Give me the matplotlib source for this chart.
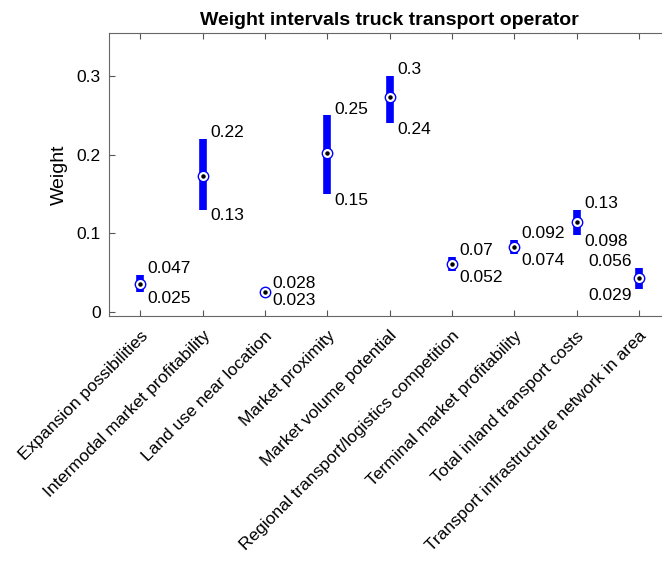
import matplotlib
matplotlib.use("Agg")
import matplotlib.pyplot as plt
import matplotlib.transforms as mtransforms
import numpy as np

plt.rcParams['font.family'] = ['Liberation Sans', 'DejaVu Sans']

# weight intervals per criterion
categories = [
    "Expansion possibilities",
    "Intermodal market profitability",
    "Land use near location",
    "Market proximity",
    "Market volume potential",
    "Regional transport/logistics competition",
    "Terminal market profitability",
    "Total inland transport costs",
    "Transport infrastructure network in area",
]
lower = [0.025, 0.13, 0.023, 0.15, 0.24, 0.052, 0.074, 0.098, 0.029]
upper = [0.047, 0.22, 0.028, 0.25, 0.30, 0.070, 0.092, 0.13, 0.056]
middle = [0.036, 0.173, 0.025, 0.202, 0.273, 0.061, 0.083, 0.115, 0.043]
lower_labels = ["0.025", "0.13", "0.023", "0.15", "0.24", "0.052", "0.074", "0.098", "0.029"]
upper_labels = ["0.047", "0.22", "0.028", "0.25", "0.3", "0.07", "0.092", "0.13", "0.056"]
yticks = [0, 0.1, 0.2, 0.3]

fig = plt.figure(figsize=(6.62, 5.68), dpi=100)
ax = fig.add_axes([0.1647, 0.4442, 0.8474, 0.4977])

x = np.arange(1, len(categories) + 1)

ax.vlines(x, lower, upper, colors='#0000ff', linewidth=5.5, capstyle='butt', zorder=2)
ax.plot(x, middle, 'o', mfc='white', mec='#0000ff', ms=7.5, mew=1.0, zorder=3)
ax.plot(x, middle, 'o', color='black', ms=2.2, zorder=4)

# interval labels
for i in range(len(categories)):
    if i == len(categories) - 1:
        dx, ha = -5.3, 'right'
    else:
        dx, ha = 5.5, 'left'
    ax.annotate(upper_labels[i], (x[i], upper[i]), xytext=(dx, 4.5),
                textcoords='offset points', ha=ha, va='center', fontsize=12.5)
    ax.annotate(lower_labels[i], (x[i], lower[i]), xytext=(dx, -4.5),
                textcoords='offset points', ha=ha, va='center', fontsize=12.5)

ax.set_xlim(0.5, 9.5)
ax.set_ylim(-0.0047, 0.3546)
ax.set_yticks(yticks)
ax.set_yticklabels(["0", "0.1", "0.2", "0.3"])
ax.set_xticks(x)
ax.set_xticklabels(categories, rotation=45, ha='right', va='top',
                   rotation_mode='anchor', fontsize=13.5)
shift = mtransforms.ScaledTranslation(6 / 100, 0, fig.dpi_scale_trans)
for lab in ax.get_xticklabels():
    lab.set_transform(lab.get_transform() + shift)

ax.tick_params(direction='in', top=True, length=4, width=0.8,
               color='#555555', labelsize=12.5, pad=6)
ax.tick_params(axis='x', pad=9)
ax.spines['right'].set_visible(False)
for s in ax.spines.values():
    s.set_color('#666666')
    s.set_linewidth(0.8)

ax.set_ylabel("Weight", fontsize=14, labelpad=6)
ax.set_title("Weight intervals truck transport operator", fontsize=14,
             fontweight='bold', pad=6)

fig.savefig("out.png", dpi=100)
